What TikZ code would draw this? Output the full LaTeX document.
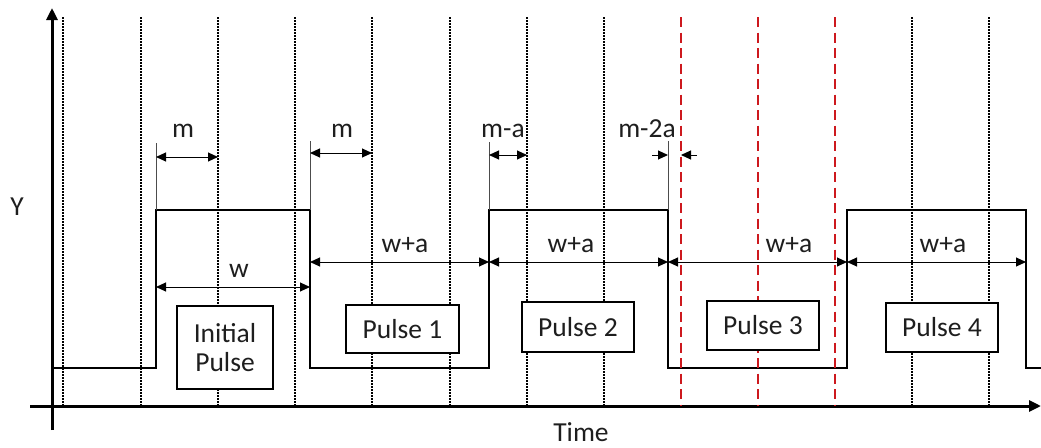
\documentclass[tikz,border=0pt]{standalone}
\usepackage{fontspec}
\setmainfont{Carlito}
\usetikzlibrary{arrows.meta}
\definecolor{redline}{RGB}{205,25,30}
\definecolor{txt}{RGB}{30,30,30}
\begin{document}
\begin{tikzpicture}[x=1pt,y=-1pt,
  lbl/.style={font=\fontsize{27.5}{31}\selectfont, text=txt, anchor=base, inner sep=0pt},
  dotgrid/.style={line width=1.5pt, dash pattern=on 1.5pt off 1.5pt},
  redgrid/.style={line width=2pt, dash pattern=on 10pt off 5.5pt, draw=redline},
  sig/.style={line width=2pt, line join=miter},
  axis/.style={line width=3pt, -{Triangle[length=12pt,width=11pt]}},
  dimarr/.style={line width=1pt, {Triangle[length=10pt,width=9pt]}-{Triangle[length=10pt,width=9pt]}},
  onearr/.style={line width=1pt, -{Triangle[length=10pt,width=9pt]}},
  ext/.style={line width=1pt, draw=black!70},
  pbox/.style={draw, line width=2pt, fill=white, font=\fontsize{27.5}{31}\selectfont, text=txt, align=center, inner sep=0pt, anchor=north west}
]
\useasboundingbox (0,0) rectangle (1041,447);
% grid lines
\foreach \x in {63,141,218,295,372,450,527,604,912,989}
  \draw[dotgrid] (\x,17) -- (\x,406);
% axes
\draw[axis] (30,406) -- (1041,406);
\draw[axis] (52,430) -- (52,8);
% signal
\coordinate (s0) at (52,368);
\coordinate (r0l) at (156,368); \coordinate (r0h) at (156,210);
\coordinate (f0h) at (310,210); \coordinate (f0l) at (310,368);
\coordinate (r1l) at (489,368); \coordinate (r1h) at (489,210);
\coordinate (f1h) at (668,210); \coordinate (f1l) at (668,368);
\coordinate (r2l) at (847,368); \coordinate (r2h) at (847,210);
\coordinate (f2h) at (1026,210); \coordinate (f2l) at (1026,368);
\coordinate (s1) at (1041,368);
\draw[sig] (s0) -- (r0l) -- (r0h) -- (f0h) -- (f0l) -- (r1l) -- (r1h) -- (f1h) -- (f1l) -- (r2l) -- (r2h) -- (f2h) -- (f2l) -- (s1);
% extension lines
\coordinate (e0) at (156,143);
\coordinate (e1) at (310,141);
\coordinate (e2) at (489,142);
\coordinate (e3) at (668,141);
\draw[ext] (e0) -- (r0h);
\draw[ext] (e1) -- (f0h);
\draw[ext] (e2) -- (r1h);
\draw[ext] (e3) -- (f1h);
% m dimensions
\draw[dimarr] (156,157) coordinate (m0a) -- (218,157) coordinate (m0b);
\node[lbl] (lm0) at (183,137) {m};
\draw[dimarr] (310,153) coordinate (m1a) -- (372,153) coordinate (m1b);
\node[lbl] (lm1) at (342,137) {m};
\draw[dimarr] (489,155) coordinate (m2a) -- (527,155) coordinate (m2b);
\node[lbl] (lm2) at (503,137) {m-a};
\coordinate (m3o) at (652,155); \coordinate (m3a) at (668,155);
\coordinate (m4o) at (697,155); \coordinate (m4a) at (681,155);
\draw[onearr] (m3o) -- (m3a);
\draw[onearr] (m4o) -- (m4a);
\node[lbl] (lm3) at (647,137) {m-2a};
% w dimensions
\draw[dimarr] (156,287) coordinate (w0a) -- (310,287) coordinate (w0b);
\node[lbl] (lw0) at (239,277) {w};
\draw[dimarr] (310,262) coordinate (wa1a) -- (489,262) coordinate (wa1b);
\node[lbl] (lwa1) at (405,252) {w+a};
\draw[dimarr] (489,262) coordinate (wa2a) -- (668,262) coordinate (wa2b);
\node[lbl] (lwa2) at (571,252) {w+a};
\draw[dimarr] (668,262) coordinate (wa3a) -- (847,262) coordinate (wa3b);
\node[lbl] (lwa3) at (789,252) {w+a};
\draw[dimarr] (847,262) coordinate (wa4a) -- (1026,262) coordinate (wa4b);
\node[lbl] (lwa4) at (943,252) {w+a};
% red dashed lines
\foreach \x in {681,758,835}
  \draw[redgrid] (\x,17) -- (\x,406);
% boxes
\node[pbox, minimum width=96pt, minimum height=83pt] (b0) at (176,305) {Initial\\[-2pt]Pulse};
\node[pbox, minimum width=113pt, minimum height=48pt] (b1) at (345,304) {Pulse 1};
\node[pbox, minimum width=112pt, minimum height=50pt] (b2) at (521,301) {Pulse 2};
\node[pbox, minimum width=112pt, minimum height=49pt] (b3) at (706,300) {Pulse 3};
\node[pbox, minimum width=112pt, minimum height=49pt] (b4) at (885,302) {Pulse 4};
% axis labels
\node[lbl] (ly) at (17,215) {Y};
\node[lbl] (lt) at (581,441) {Time};
\end{tikzpicture}
\end{document}
